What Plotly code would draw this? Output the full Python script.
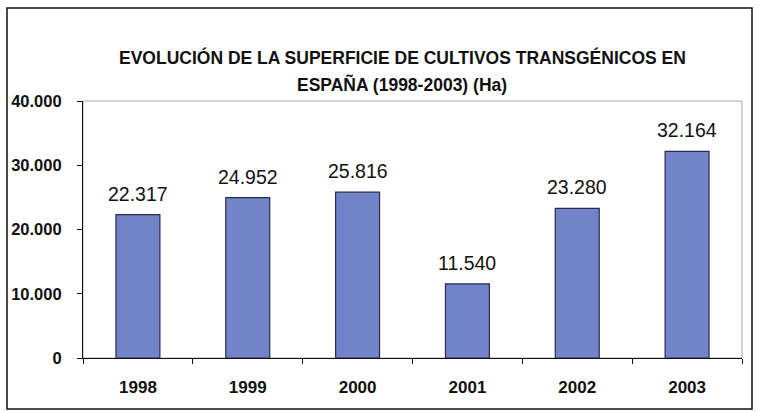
import plotly.graph_objects as go

years = ["1998", "1999", "2000", "2001", "2002", "2003"]
hectares = [22317, 24952, 25816, 11540, 23280, 32164]
y_ticks = [0, 10000, 20000, 30000, 40000]
y_tick_labels = ["0", "10.000", "20.000", "30.000", "40.000"]

title_lines = ["EVOLUCIÓN DE LA SUPERFICIE DE CULTIVOS TRANSGÉNICOS EN",
               "ESPAÑA (1998-2003) (Ha)"]

def fmt(v):
    return f"{v:,}".replace(",", ".")

FONT = "Liberation Sans, Arial"

fig = go.Figure()
fig.add_trace(go.Bar(
    x=years, y=hectares, width=0.4,
    marker=dict(color="#7383c9", line=dict(color="#2a2a4a", width=1.2)),
    hoverinfo="x+y",
))

# category index positions (category axis treats numeric strings as indices)
for i, v in enumerate(hectares):
    fig.add_annotation(x=i, y=v, text=fmt(v), showarrow=False,
                       yanchor="bottom", yshift=8,
                       font=dict(family=FONT, size=19.5, color="#111"))

W, H = 759, 412
L, R, T, B = 83, 17, 101, 54
pw, ph = W - L - R, H - T - B

def px(x):
    return (x - L) / pw

def py(y):
    return (H - B - y) / ph

# outer border
fig.add_shape(type="rect", xref="paper", yref="paper",
              x0=px(7), x1=px(752), y0=py(409), y1=py(8),
              line=dict(color="#111", width=1.5), layer="below")
# plot area border (light gray)
fig.add_shape(type="rect", xref="paper", yref="paper",
              x0=0, x1=1, y0=0, y1=1,
              line=dict(color="#a8a8a8", width=1), layer="below")

fig.add_annotation(xref="paper", yref="paper", x=px(402), y=py(45),
                   text=title_lines[0], showarrow=False,
                   font=dict(family=FONT, size=17.5, color="#111", weight="bold"))
fig.add_annotation(xref="paper", yref="paper", x=px(402), y=py(72),
                   text=title_lines[1], showarrow=False,
                   font=dict(family=FONT, size=17.5, color="#111", weight="bold"))

fig.update_layout(
    width=W, height=H,
    margin=dict(l=L, r=R, t=T, b=B),
    paper_bgcolor="white", plot_bgcolor="white",
    showlegend=False,
    xaxis=dict(
        type="category",
        range=[-0.5, 5.5],
        showline=True, linecolor="#111", linewidth=1.2,
        ticks="outside", ticklen=5, tickcolor="#111", tickson="boundaries",
        showgrid=False,
        tickfont=dict(family=FONT, size=17, color="#111", weight="bold"),
        ticklabelstandoff=13,
    ),
    yaxis=dict(
        range=[0, 40000],
        tickvals=y_ticks, ticktext=y_tick_labels,
        showline=True, linecolor="#111", linewidth=1.2,
        ticks="outside", ticklen=5, tickcolor="#111",
        showgrid=False, zeroline=False,
        tickfont=dict(family=FONT, size=16.5, color="#111", weight="bold"),
        ticklabelstandoff=12,
    ),
)

fig.write_html("out.html", config={"displayModeBar": False},
               post_script="document.body.style.margin='0';")
